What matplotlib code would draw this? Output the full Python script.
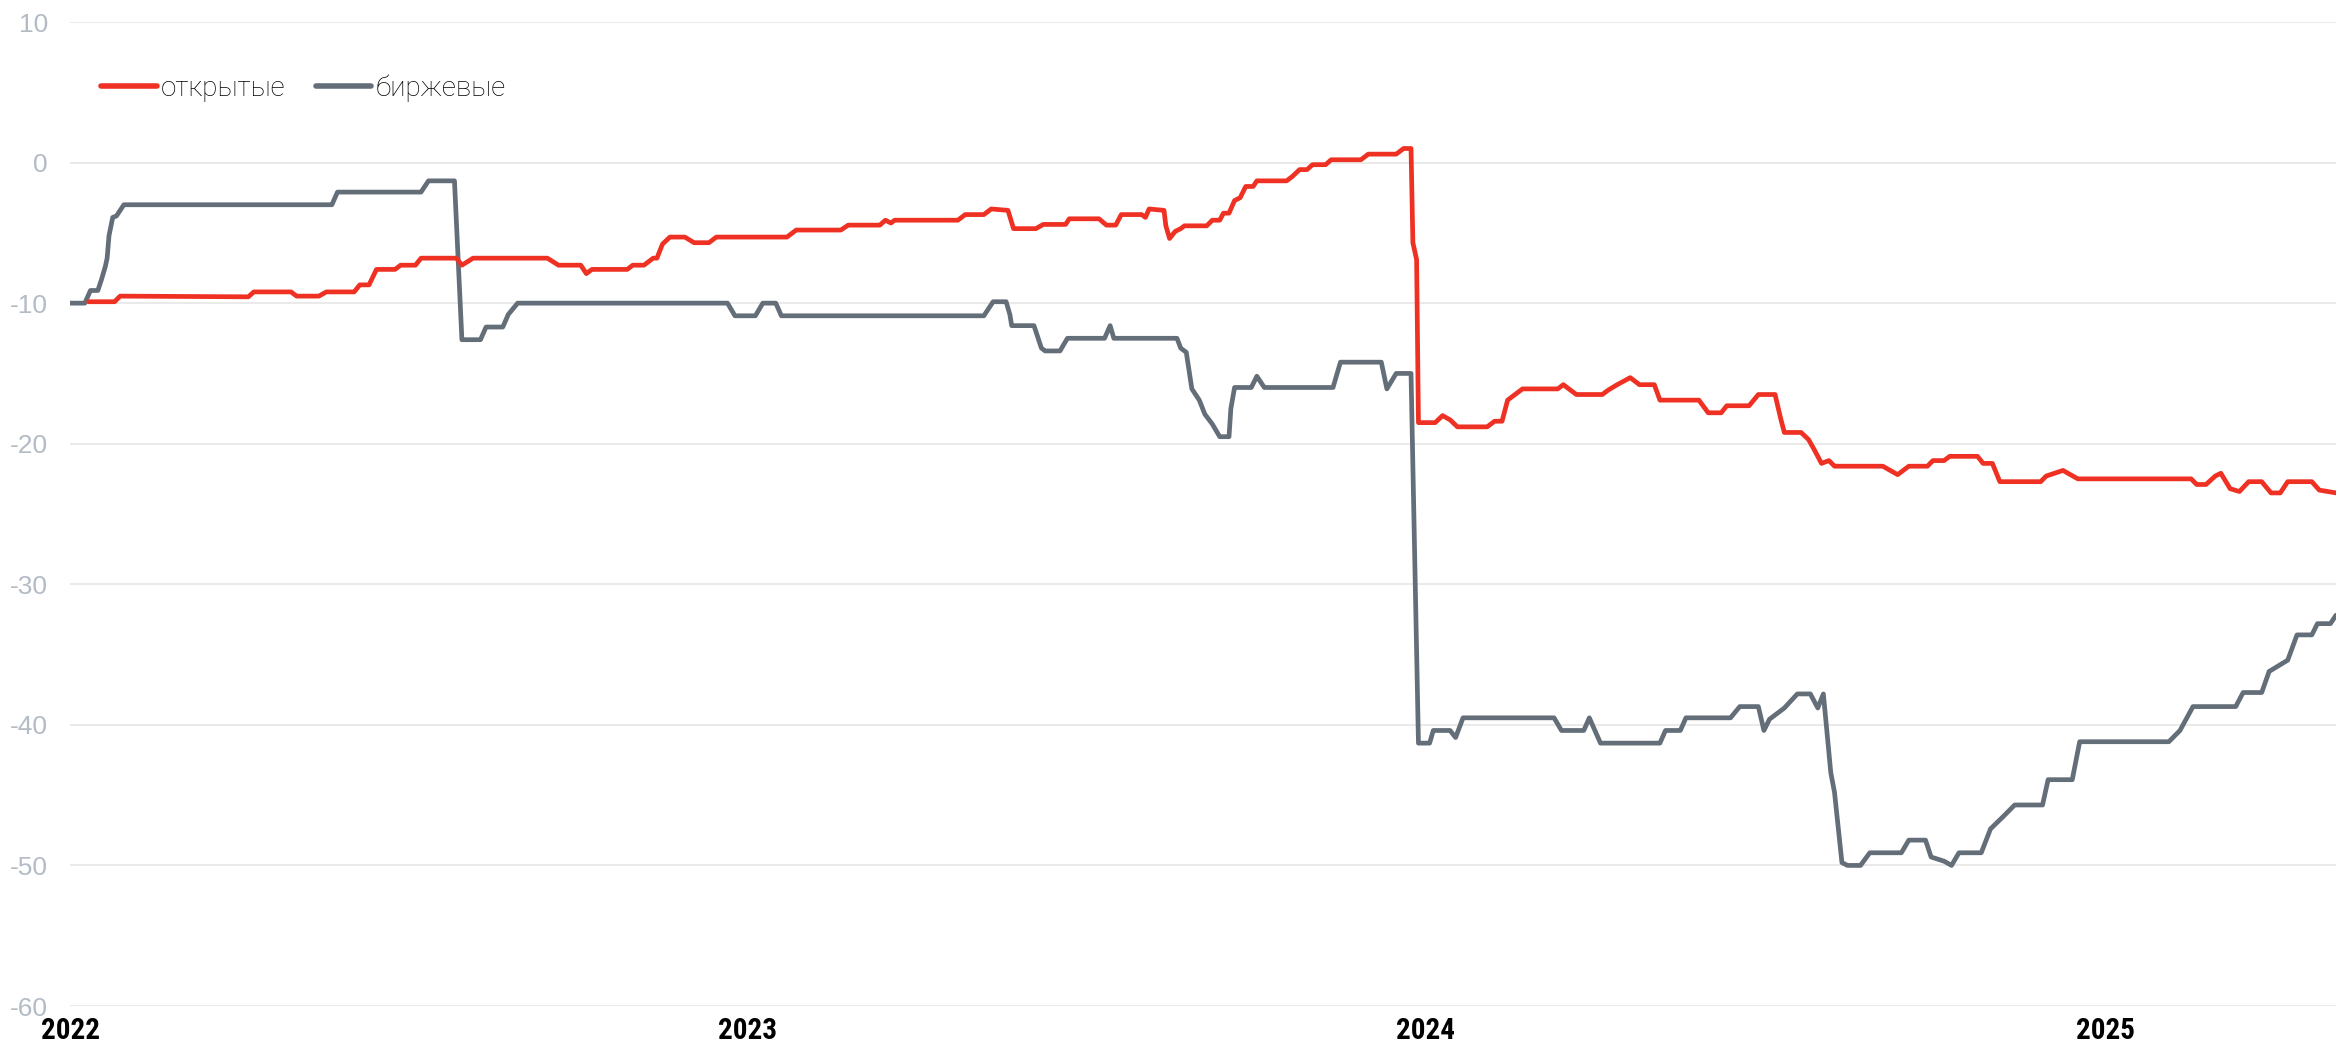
import pandas as pd
import matplotlib
matplotlib.use("Agg")
from matplotlib import pyplot as plt
from matplotlib import font_manager

# биржевые (grey)
exch_dates = [
    "2022-01-01", "2022-01-09", "2022-01-12", "2022-01-16", "2022-01-18", "2022-01-20",
    "2022-01-21", "2022-01-22", "2022-01-24", "2022-01-26", "2022-01-30", "2022-05-22",
    "2022-05-25", "2022-07-09", "2022-07-13", "2022-07-27", "2022-07-31", "2022-08-10",
    "2022-08-13", "2022-08-22", "2022-08-25", "2022-08-30", "2022-12-21", "2022-12-25",
    "2023-01-05", "2023-01-09", "2023-01-16", "2023-01-19", "2023-05-08", "2023-05-13",
    "2023-05-20", "2023-05-22", "2023-05-23", "2023-06-04", "2023-06-08", "2023-06-10",
    "2023-06-18", "2023-06-22", "2023-07-12", "2023-07-15", "2023-07-17", "2023-08-20",
    "2023-08-22", "2023-08-25", "2023-08-28", "2023-09-01", "2023-09-04", "2023-09-08",
    "2023-09-12", "2023-09-17", "2023-09-18", "2023-09-20", "2023-09-29", "2023-10-02",
    "2023-10-06", "2023-11-12", "2023-11-16", "2023-12-08", "2023-12-11", "2023-12-16",
    "2023-12-24", "2023-12-28", "2024-01-03", "2024-01-05", "2024-01-14", "2024-01-17",
    "2024-01-21", "2024-03-10", "2024-03-14", "2024-03-26", "2024-03-29", "2024-04-04",
    "2024-05-06", "2024-05-09", "2024-05-17", "2024-05-20", "2024-06-13", "2024-06-18",
    "2024-06-28", "2024-07-01", "2024-07-04", "2024-07-12", "2024-07-19", "2024-07-26",
    "2024-07-30", "2024-08-02", "2024-08-04", "2024-08-06", "2024-08-08", "2024-08-12",
    "2024-08-15", "2024-08-22", "2024-08-27", "2024-09-13", "2024-09-17", "2024-09-26",
    "2024-09-29", "2024-10-06", "2024-10-10", "2024-10-14", "2024-10-26", "2024-10-31",
    "2024-11-07", "2024-11-13", "2024-11-28", "2024-12-01", "2024-12-14", "2024-12-18",
    "2025-02-04", "2025-02-10", "2025-02-17", "2025-03-12", "2025-03-16", "2025-03-26",
    "2025-03-30", "2025-04-09", "2025-04-14", "2025-04-22", "2025-04-25", "2025-05-02",
    "2025-05-05",
]
exch_values = [
    -10.0, -10.0, -9.1, -9.1, -8.3, -7.4,
    -6.8, -5.2, -3.9, -3.8, -3.0, -3.0,
    -2.1, -2.1, -1.3, -1.3, -12.6, -12.6,
    -11.7, -11.7, -10.8, -10.0, -10.0, -10.9,
    -10.9, -10.0, -10.0, -10.9, -10.9, -9.9,
    -9.9, -10.8, -11.6, -11.6, -13.2, -13.4,
    -13.4, -12.5, -12.5, -11.6, -12.5, -12.5,
    -13.2, -13.5, -16.1, -16.9, -17.9, -18.6,
    -19.5, -19.5, -17.5, -16.0, -16.0, -15.2,
    -16.0, -16.0, -14.2, -14.2, -16.1, -15.0,
    -15.0, -41.3, -41.3, -40.4, -40.4, -40.9,
    -39.5, -39.5, -40.4, -40.4, -39.5, -41.3,
    -41.3, -40.4, -40.4, -39.5, -39.5, -38.7,
    -38.7, -40.4, -39.6, -38.8, -37.8, -37.8,
    -38.8, -37.8, -40.6, -43.4, -44.8, -49.8,
    -50.0, -50.0, -49.1, -49.1, -48.2, -48.2,
    -49.4, -49.7, -50.0, -49.1, -49.1, -47.4,
    -46.5, -45.7, -45.7, -43.9, -43.9, -41.2,
    -41.2, -40.4, -38.7, -38.7, -37.7, -37.7,
    -36.2, -35.4, -33.6, -33.6, -32.8, -32.8,
    -32.2,
]

# открытые (red)
open_dates = [
    "2022-01-11", "2022-01-25", "2022-01-28", "2022-04-07", "2022-04-10", "2022-04-30",
    "2022-05-03", "2022-05-15", "2022-05-19", "2022-06-03", "2022-06-06", "2022-06-11",
    "2022-06-15", "2022-06-25", "2022-06-28", "2022-07-06", "2022-07-09", "2022-07-28",
    "2022-07-31", "2022-08-06", "2022-09-15", "2022-09-21", "2022-10-03", "2022-10-06",
    "2022-10-09", "2022-10-28", "2022-10-31", "2022-11-06", "2022-11-11", "2022-11-13",
    "2022-11-16", "2022-11-20", "2022-11-28", "2022-12-03", "2022-12-11", "2022-12-15",
    "2023-01-22", "2023-01-27", "2023-02-20", "2023-02-24", "2023-03-13", "2023-03-16",
    "2023-03-19", "2023-03-21", "2023-04-24", "2023-04-28", "2023-05-08", "2023-05-12",
    "2023-05-21", "2023-05-24", "2023-06-05", "2023-06-09", "2023-06-21", "2023-06-23",
    "2023-07-09", "2023-07-13", "2023-07-18", "2023-07-21", "2023-08-01", "2023-08-03",
    "2023-08-05", "2023-08-13", "2023-08-14", "2023-08-16", "2023-08-19", "2023-08-22",
    "2023-08-24", "2023-09-05", "2023-09-08", "2023-09-12", "2023-09-14", "2023-09-17",
    "2023-09-20", "2023-09-23", "2023-09-26", "2023-09-30", "2023-10-02", "2023-10-18",
    "2023-10-21", "2023-10-25", "2023-10-29", "2023-11-01", "2023-11-08", "2023-11-11",
    "2023-11-27", "2023-12-01", "2023-12-16", "2023-12-20", "2023-12-24", "2023-12-25",
    "2023-12-27", "2023-12-28", "2024-01-06", "2024-01-10", "2024-01-14", "2024-01-18",
    "2024-02-03", "2024-02-07", "2024-02-11", "2024-02-14", "2024-02-22", "2024-03-12",
    "2024-03-15", "2024-03-22", "2024-04-05", "2024-04-08", "2024-04-13", "2024-04-20",
    "2024-04-25", "2024-05-03", "2024-05-06", "2024-05-27", "2024-06-01", "2024-06-08",
    "2024-06-11", "2024-06-23", "2024-06-28", "2024-07-07", "2024-07-10", "2024-07-12",
    "2024-07-21", "2024-07-25", "2024-07-28", "2024-08-01", "2024-08-05", "2024-08-08",
    "2024-09-03", "2024-09-11", "2024-09-17", "2024-09-27", "2024-09-30", "2024-10-06",
    "2024-10-09", "2024-10-24", "2024-10-27", "2024-11-01", "2024-11-05", "2024-11-27",
    "2024-11-30", "2024-12-09", "2024-12-17", "2025-02-16", "2025-02-19", "2025-02-24",
    "2025-03-01", "2025-03-04", "2025-03-09", "2025-03-14", "2025-03-19", "2025-03-26",
    "2025-03-31", "2025-04-05", "2025-04-09", "2025-04-22", "2025-04-26", "2025-05-05",
]
open_values = [
    -9.9, -9.9, -9.5, -9.55, -9.2, -9.2,
    -9.5, -9.5, -9.2, -9.2, -8.7, -8.7,
    -7.6, -7.6, -7.3, -7.3, -6.8, -6.8,
    -7.3, -6.8, -6.8, -7.3, -7.3, -7.9,
    -7.6, -7.6, -7.3, -7.3, -6.8, -6.8,
    -5.8, -5.3, -5.3, -5.7, -5.7, -5.3,
    -5.3, -4.8, -4.8, -4.45, -4.45, -4.1,
    -4.3, -4.1, -4.1, -3.7, -3.7, -3.3,
    -3.4, -4.7, -4.7, -4.4, -4.4, -4.0,
    -4.0, -4.45, -4.45, -3.7, -3.7, -3.9,
    -3.3, -3.4, -4.5, -5.4, -4.9, -4.7,
    -4.5, -4.5, -4.1, -4.1, -3.6, -3.6,
    -2.7, -2.5, -1.7, -1.7, -1.3, -1.3,
    -1.0, -0.5, -0.5, -0.15, -0.15, 0.2,
    0.2, 0.6, 0.6, 1.0, 1.0, -5.7,
    -6.9, -18.5, -18.5, -18.0, -18.3, -18.8,
    -18.8, -18.4, -18.4, -16.9, -16.1, -16.1,
    -15.8, -16.5, -16.5, -16.2, -15.8, -15.3,
    -15.8, -15.8, -16.9, -16.9, -17.8, -17.8,
    -17.3, -17.3, -16.5, -16.5, -18.2, -19.2,
    -19.2, -19.7, -20.4, -21.4, -21.2, -21.6,
    -21.6, -22.2, -21.6, -21.6, -21.2, -21.2,
    -20.9, -20.9, -21.4, -21.4, -22.7, -22.7,
    -22.3, -21.9, -22.5, -22.5, -22.9, -22.9,
    -22.3, -22.1, -23.2, -23.4, -22.7, -22.7,
    -23.5, -23.5, -22.7, -22.7, -23.3, -23.5,
]

year_ticks = ["2022-01-01", "2023-01-01", "2024-01-01", "2025-01-01"]
year_labels = ["2022", "2023", "2024", "2025"]
y_ticks = [10, 0, -10, -20, -30, -40, -50, -60]

RED = "#ef3124"
GREY = "#646e79"

# narrow bold font for the year labels, if the system has one
installed = {f.name for f in font_manager.fontManager.ttflist}
narrow = None
for name in ["Liberation Sans Narrow", "Arial Narrow", "DejaVu Sans Condensed", "Roboto Condensed"]:
    if name in installed:
        narrow = name
        break
condensed_fonts = [f for f in font_manager.fontManager.ttflist
                   if f.stretch in ("condensed", "semi-condensed", 500 - 100, 300) and f.weight in ("bold", 700)]
if narrow:
    year_font = dict(family=[narrow, "DejaVu Sans"], fontsize=21)
elif condensed_fonts:
    year_font = dict(fname=condensed_fonts[0].fname)
else:
    year_font = dict(family=["Liberation Sans", "DejaVu Sans"], fontsize=18)

fig = plt.figure(figsize=(23.36, 10.48), dpi=100)
ax = fig.add_axes([70 / 2336, 42 / 1048, 1 - 70 / 2336, 984 / 1048])

ax.plot(pd.to_datetime(open_dates), open_values, color=RED, lw=3.4,
        solid_joinstyle="round", solid_capstyle="round", label="открытые", zorder=3)
ax.plot(pd.to_datetime(exch_dates), exch_values, color=GREY, lw=3.4,
        solid_joinstyle="round", solid_capstyle="round", label="биржевые", zorder=2)

ax.set_xlim(pd.Timestamp("2022-01-01"), pd.Timestamp("2025-05-05"))
ax.set_ylim(-60, 10)
ax.set_yticks(y_ticks)
ax.set_yticklabels([str(v) for v in y_ticks], color="#b3bbc5", fontsize=19,
                   family=["Liberation Sans", "DejaVu Sans"])
ax.set_xticks(pd.to_datetime(year_ticks))
if "fname" in year_font:
    fp = font_manager.FontProperties(fname=year_font["fname"], size=21)
    ax.set_xticklabels(year_labels, fontproperties=fp, color="black")
else:
    ax.set_xticklabels(year_labels, fontweight="bold", color="black", **year_font)
ax.tick_params(axis="y", length=0, pad=16)
ax.tick_params(axis="x", length=0, pad=8)
ax.grid(axis="y", color="#e4e4e4", lw=1.1)
ax.grid(axis="x", visible=False)
for s in ax.spines.values():
    s.set_visible(False)

leg = ax.legend(loc="center left", bbox_to_anchor=(101 / 2336, 1 - 88 / 1048),
                bbox_transform=fig.transFigure, ncol=2, frameon=False,
                borderpad=0, borderaxespad=0, handlelength=2.0, handletextpad=0.15,
                columnspacing=1.1, prop={"family": ["Roboto", "DejaVu Sans"],
                                         "weight": "light", "size": 20})
for line in leg.get_lines():
    line.set_linewidth(4.0)
    line.set_solid_capstyle("round")

fig.savefig("out.png", dpi=100, facecolor="white")
